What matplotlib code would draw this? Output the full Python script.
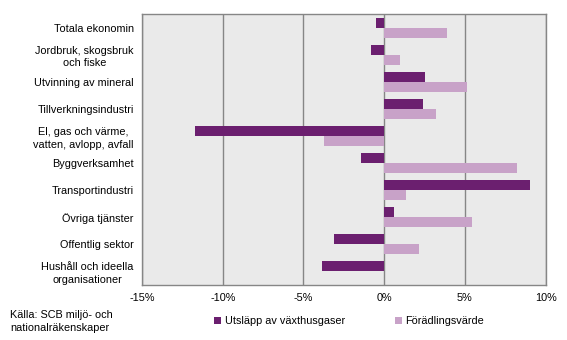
import numpy as np
import matplotlib
matplotlib.use("Agg")
import matplotlib.pyplot as plt
from matplotlib.ticker import FuncFormatter

categories = [
    "Totala ekonomin",
    "Jordbruk, skogsbruk\noch fiske",
    "Utvinning av mineral",
    "Tillverkningsindustri",
    "El, gas och värme,\nvatten, avlopp, avfall",
    "Byggverksamhet",
    "Transportindustri",
    "Övriga tjänster",
    "Offentlig sektor",
    "Hushåll och ideella\norganisationer",
]
utslapp = [-0.5, -0.8, 2.5, 2.4, -11.7, -1.45, 9.0, 0.6, -3.1, -3.85]
fordlingsvarde = [3.9, 1.0, 5.15, 3.2, -3.75, 8.25, 1.35, 5.45, 2.15, 0.0]
xticks = [-15, -10, -5, 0, 5, 10]

plt.rcParams["font.family"] = ["Liberation Sans", "DejaVu Sans"]
plt.rcParams["font.size"] = 7.8

fig = plt.figure(figsize=(5.67, 3.4), dpi=100)
ax = fig.add_axes([0.2504, 0.1618, 0.712, 0.797])

y = np.arange(len(categories))
h = 0.37
c1, c2 = "#6b1f6f", "#c8a2c8"
ax.barh(y - h / 2, utslapp, height=h, color=c1, label="Utsläpp av växthusgaser", zorder=3)
ax.barh(y + h / 2, fordlingsvarde, height=h, color=c2, label="Förädlingsvärde", zorder=3)

ax.set_facecolor("#eaeaea")
ax.set_xlim(-15, 10)
ax.set_ylim(len(categories) - 0.5, -0.5)
ax.set_xticks(xticks)
ax.xaxis.set_major_formatter(FuncFormatter(lambda v, _: f"{v:.0f}%"))
ax.set_yticks(y)
ax.set_yticklabels(categories, multialignment="center", linespacing=1.35)
ax.tick_params(length=0, pad=6)
ax.tick_params(axis="x", pad=6)
ax.grid(axis="x", color="#868686", lw=1, zorder=1)
for s in ax.spines.values():
    s.set_color("#868686")
    s.set_linewidth(1)

fig.legend(loc="lower left", bbox_to_anchor=(0.36, 0.012), ncol=2, frameon=False,
           handlelength=0.7, handleheight=0.7, handletextpad=0.3, columnspacing=4.6)
fig.text(0.018, 0.022, "Källa: SCB miljö- och\nnationalräkenskaper", ha="left", va="bottom",
         linespacing=1.3)

fig.savefig("out.png", dpi=100)
